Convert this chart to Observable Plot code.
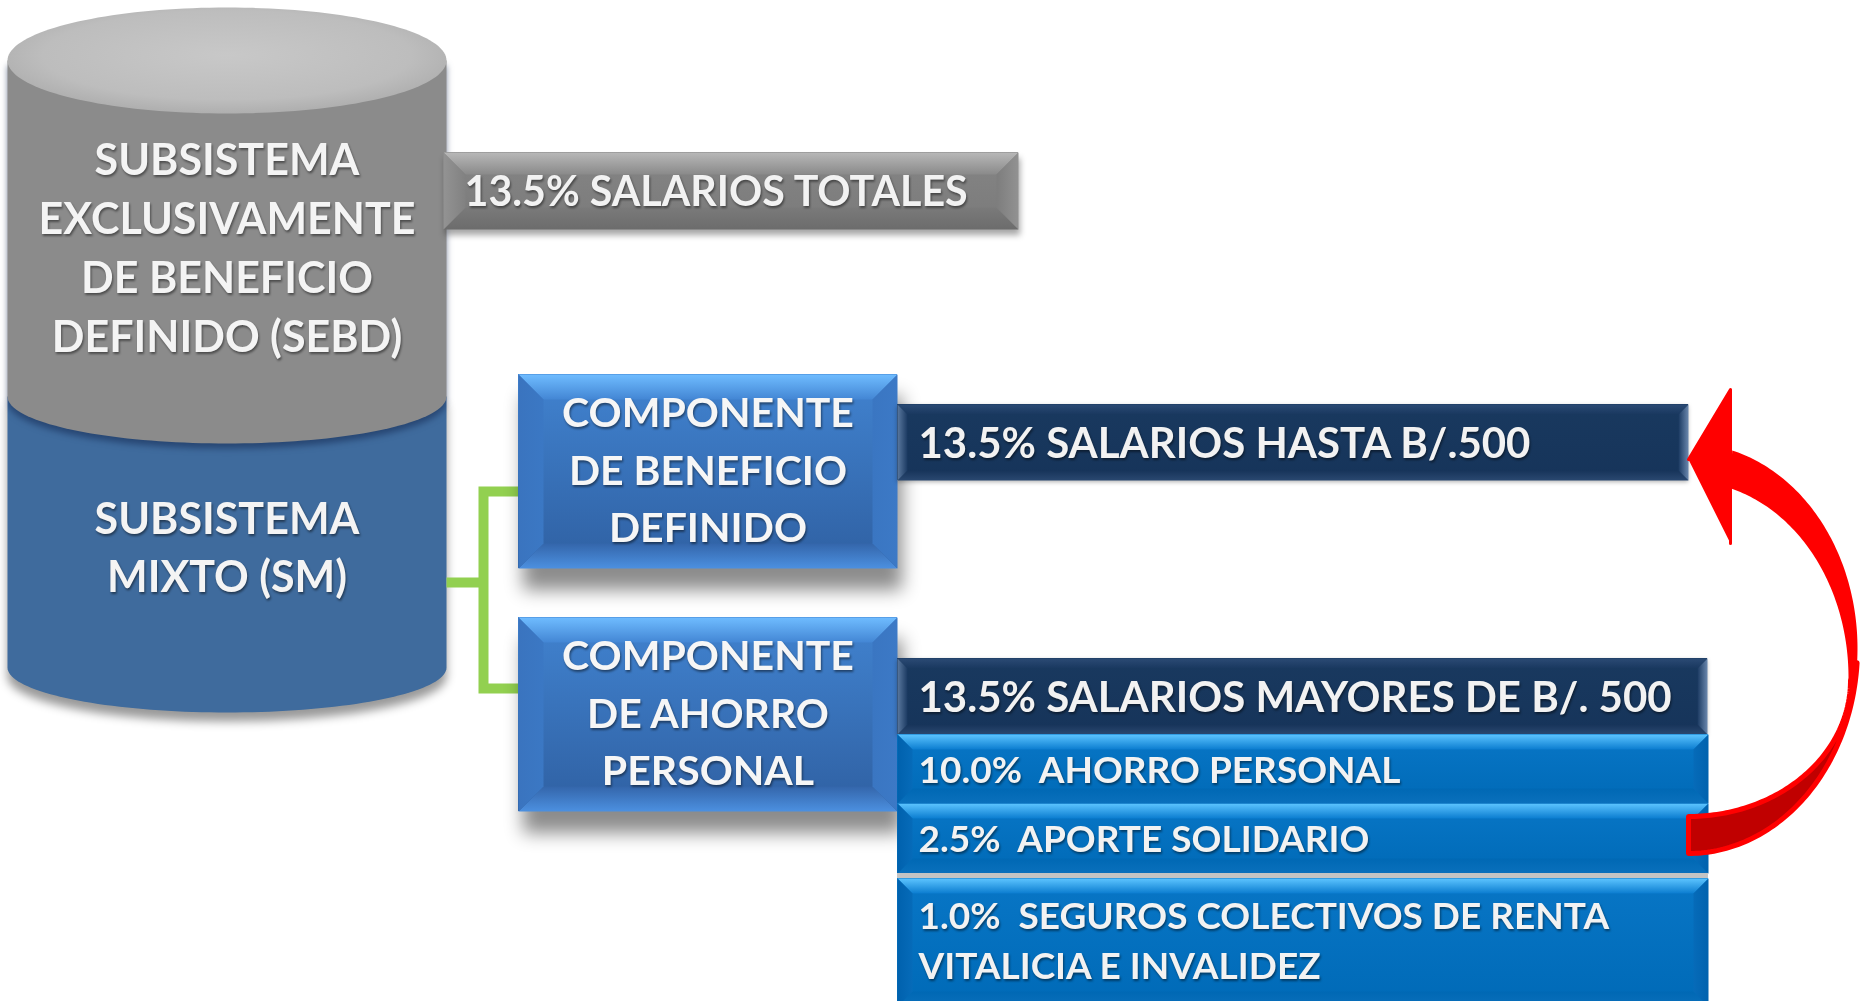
<!DOCTYPE html>
<html>
<head>
<meta charset="utf-8">
<script src="https://cdn.jsdelivr.net/npm/d3@7"></script>
<script src="https://cdn.jsdelivr.net/npm/@observablehq/plot@0.6"></script>
<style>
  html, body { margin: 0; padding: 0; background: #fff; overflow: hidden; }
  .shBig { filter: drop-shadow(5px 22px 9px rgba(0,0,0,0.45)); }
  .shSmall { filter: drop-shadow(2px 6px 3px rgba(0,0,0,0.35)); }
  .shCyl { filter: drop-shadow(0px 9px 5px rgba(0,0,0,0.40)); }
  .shMid { filter: drop-shadow(0px 5px 3px rgba(20,40,80,0.55)); }
  .shRow { filter: drop-shadow(0px 2px 2px rgba(0,0,0,0.30)); }
  .lbl { filter: drop-shadow(1px 2px 1px rgba(0,0,0,0.45)); }
</style>
</head>
<body>
<div id="chart"></div>
<script>
// ---------------- DATA (texts of the diagram) ----------------
const sebdLines = ["SUBSISTEMA", "EXCLUSIVAMENTE", "DE BENEFICIO", "DEFINIDO (SEBD)"];
const smLines = ["SUBSISTEMA", "MIXTO (SM)"];
const componentLines = [
  ["COMPONENTE", "DE BENEFICIO", "DEFINIDO"],
  ["COMPONENTE", "DE AHORRO", "PERSONAL"]
];
const rates = ["13.5%", "13.5%", "13.5%", "10.0%", "2.5%", "1.0%"];
const rateLines = [
  ["13.5% SALARIOS TOTALES"],
  ["13.5% SALARIOS HASTA B/.500"],
  ["13.5% SALARIOS MAYORES DE B/. 500"],
  ["10.0%  AHORRO PERSONAL"],
  ["2.5%  APORTE SOLIDARIO"],
  ["1.0%  SEGUROS COLECTIVOS DE RENTA", "VITALICIA E INVALIDEZ"]
];
const rateKinds = ["grey", "navy", "navy", "blue", "blue", "blue"];

// ---------------- LAYOUT ----------------
const W = 1860, H = 1001;
const cyl = {x1: 7, x2: 446, yTop: 60, yMid: 396, yBot: 667, ryTop: 53, ryMid: 47, ryBot: 45,
             sebdCenter: 249.5, sebdGap: 59, smCenter: 549, smGap: 58};
const compBoxes = [
  {x1: 518, x2: 897, y1: 374, y2: 568},
  {x1: 518, x2: 897, y1: 617, y2: 811}
];
const rateBoxes = [
  {x1: 443, x2: 1018, y1: 152, y2: 229, tx: 464},
  {x1: 897, x2: 1688, y1: 404, y2: 480, tx: 918},
  {x1: 897, x2: 1707, y1: 658, y2: 734, tx: 918},
  {x1: 897, x2: 1708, y1: 734, y2: 803, tx: 918},
  {x1: 897, x2: 1708, y1: 803, y2: 873, tx: 918},
  {x1: 897, x2: 1708, y1: 878, y2: 1006, tx: 918}
];
const separator = [{x1: 897, x2: 1708, y1: 873, y2: 878}];
const bracket = {xCyl: 446, xV: 483, xBox: 518, yMid: 582, yTop: 491, yBot: 688};
const arrowGeo = {
  outer: {cx: 1688, cy: 648, rx: 169, ry: 205},
  inner: {cx: 1688, cy: 677, rx: 160, ry: 196},
  back:  {cx: 1688, cy: 680, rx: 162, ry: 136},
  tip: [1688, 459], headTop: [1730, 389], headBot: [1730, 543]
};
const FONT = "Lato, 'Open Sans', sans-serif";
const cylSize = 43, compSize = 41, bigGap = 57.5, rateGap = 50, rateShift = 2;
const rateSizes = {grey: 41.2, navy: 42, blue: 37};

// ---------------- helpers ----------------
const deg = Math.PI / 180;
function arc(c, a0, a1, n = 80) {
  return d3.range(n + 1).map(i => {
    const a = (a0 + (a1 - a0) * i / n) * deg;
    return {x: c.cx + c.rx * Math.cos(a), y: c.cy + c.ry * Math.sin(a)};
  });
}
function bevel(boxes, d) {
  const sides = {top: [], bottom: [], left: [], right: []};
  boxes.forEach((b, i) => {
    const push = (side, pts) => pts.forEach(([x, y]) => sides[side].push({id: i, x, y}));
    push("top", [[b.x1, b.y1], [b.x2, b.y1], [b.x2 - d, b.y1 + d], [b.x1 + d, b.y1 + d]]);
    push("bottom", [[b.x1, b.y2], [b.x2, b.y2], [b.x2 - d, b.y2 - d], [b.x1 + d, b.y2 - d]]);
    push("left", [[b.x1, b.y1], [b.x1 + d, b.y1 + d], [b.x1 + d, b.y2 - d], [b.x1, b.y2]]);
    push("right", [[b.x2, b.y1], [b.x2 - d, b.y1 + d], [b.x2 - d, b.y2 - d], [b.x2, b.y2]]);
  });
  return sides;
}
const poly = (data, fill, extra = {}) =>
  Plot.line(data, {x: "x", y: "y", z: "id", fill, stroke: "none", curve: "linear", ...extra});
function bevelMarks(boxes, d, fills) {
  const s = bevel(boxes, d);
  return ["top", "bottom", "left", "right"].map(k => poly(s[k], fills[k]));
}

// ---------------- gradients (defs) ----------------
function defsMark() {
  const defs = d3.create("svg:defs");
  const lin = (id, stops, horizontal = false) => {
    const g = defs.append("linearGradient").attr("id", id)
      .attr("x1", 0).attr("y1", 0).attr("x2", horizontal ? 1 : 0).attr("y2", horizontal ? 0 : 1);
    stops.forEach(([o, c]) => g.append("stop").attr("offset", o).attr("stop-color", c));
  };
  const rg = defs.append("radialGradient").attr("id", "cylTop").attr("cx", 0.5).attr("cy", 0.45).attr("r", 0.6);
  [[0, "#c8c8c8"], [0.7, "#bdbdbd"], [1, "#a9a9a9"]].forEach(([o, c]) => rg.append("stop").attr("offset", o).attr("stop-color", c));
  lin("gyMain", [[0, "#858585"], [1, "#7a7a7a"]]);
  lin("gyTop", [[0, "#b8b8b8"], [1, "#8a8a8a"]]);
  lin("gyBot", [[0, "#7a7a7a"], [1, "#6c6c6c"]]);
  lin("gyLeft", [[0, "#939393"], [1, "#818181"]], true);
  lin("gyRight", [[0, "#7d7d7d"], [1, "#929292"]], true);
  lin("cpMain", [[0, "#4183d0"], [1, "#2f60a2"]]);
  lin("cpTop", [[0, "#6fbcff"], [1, "#4386d4"]]);
  lin("cpBot", [[0, "#3466ab"], [1, "#4c90e0"]]);
  lin("cpLeft", [[0, "#3a74bf"], [1, "#3b78c4"]], true);
  lin("cpRight", [[0, "#3a76c2"], [1, "#3c79c6"]], true);
  lin("nvMain", [[0, "#19395f"], [1, "#16345a"]]);
  lin("nvTop", [[0, "#2b4a74"], [1, "#19385f"]]);
  lin("nvBot", [[0, "#17345a"], [1, "#2a4870"]]);
  lin("nvLeft", [[0, "#5a789e"], [1, "#1b3a62"]], true);
  lin("nvRight", [[0, "#1b3a62"], [1, "#6a87ad"]], true);
  lin("bwMain", [[0, "#0876c6"], [1, "#006ab7"]]);
  lin("bwTop", [[0, "#5cc4ff"], [1, "#0b7dd0"]]);
  lin("bwBot", [[0, "#0068b4"], [1, "#0a70bc"]]);
  lin("bwLeft", [[0, "#0061ad"], [1, "#066bb9"]], true);
  lin("bwRight", [[0, "#066bb9"], [1, "#0062ae"]], true);
  return defs.node();
}

// ---------------- shapes ----------------
const cx = (cyl.x1 + cyl.x2) / 2, rx = (cyl.x2 - cyl.x1) / 2;
const blueBody = [{id: 0, x: cyl.x1, y: cyl.yMid},
  ...arc({cx, cy: cyl.yBot, rx, ry: cyl.ryBot}, 180, 0).map(p => ({id: 0, ...p})),
  {id: 0, x: cyl.x2, y: cyl.yMid}];
const greyBody = [{id: 0, x: cyl.x1, y: cyl.yTop},
  ...arc({cx, cy: cyl.yMid, rx, ry: cyl.ryMid}, 180, 0).map(p => ({id: 0, ...p})),
  {id: 0, x: cyl.x2, y: cyl.yTop}];
const topEllipse = arc({cx, cy: cyl.yTop, rx, ry: cyl.ryTop}, 0, 360, 160).map(p => ({id: 0, ...p}));

const bracketLines = [
  {id: 0, x: bracket.xCyl, y: bracket.yMid}, {id: 0, x: bracket.xV, y: bracket.yMid},
  {id: 1, x: bracket.xBox, y: bracket.yTop}, {id: 1, x: bracket.xV, y: bracket.yTop},
  {id: 1, x: bracket.xV, y: bracket.yBot}, {id: 1, x: bracket.xBox, y: bracket.yBot}
];

const A = arrowGeo;
const arrowFront = [...arc(A.outer, -75, 10), ...arc(A.inner, 3, -75)].map(p => ({id: 0, ...p}));
const arrowBack = [...arc(A.outer, 4, 90), ...arc(A.back, 90, 0)].map(p => ({id: 0, ...p}));
const arrowHead = [A.tip, A.headTop, A.headBot].map(([x, y]) => ({id: 0, x, y}));

// ---------------- texts ----------------
const fixSpaces = s => s.replace(/  /g, "\u00a0 ");
const centered = (lines, xc, yc, gap) => lines.map((t, i) => ({t, x: xc, y: yc + (i - (lines.length - 1) / 2) * gap}));
const cylText = [
  ...centered(sebdLines, cx, cyl.sebdCenter, cyl.sebdGap),
  ...centered(smLines, cx, cyl.smCenter, cyl.smGap)
];
const compText = componentLines.flatMap((lines, i) => {
  const b = compBoxes[i];
  return centered(lines, (b.x1 + b.x2) / 2, (b.y1 + b.y2) / 2, bigGap);
});
const rateText = rateLines.flatMap((lines, i) => {
  const b = rateBoxes[i];
  const yc = (b.y1 + Math.min(b.y2, H)) / 2 + rateShift;
  return centered(lines.map(fixSpaces), b.tx, yc, rateGap)
    .map(d => ({...d, rate: rates[i], size: rateSizes[rateKinds[i]]}));
});

const byKind = k => rateBoxes.filter((b, i) => rateKinds[i] === k);
const textOpts = {x: "x", y: "y", text: "t", fontWeight: "bold", fontFamily: FONT, lineAnchor: "middle", className: "lbl"};

// ---------------- plot ----------------
const chart = Plot.plot({
  width: W, height: H, margin: 0,
  x: {domain: [0, W], range: [0, W], axis: null},
  y: {domain: [0, H], range: [0, H], axis: null},
  style: {fontFamily: FONT, background: "#fff"},
  marks: [
    defsMark,
    // cylinder
    poly(blueBody, "#3f6b9d", {className: "shCyl"}),
    poly(greyBody, "#8b8b8b", {className: "shMid"}),
    poly(topEllipse, "url(#cylTop)"),
    // bracket
    Plot.line(bracketLines, {x: "x", y: "y", z: "id", stroke: "#92d050", strokeWidth: 10,
      strokeLinejoin: "miter", strokeLinecap: "butt", strokeMiterlimit: 4}),
    // grey box
    Plot.rect(byKind("grey"), {x1: "x1", x2: "x2", y1: "y1", y2: "y2", fill: "url(#gyMain)", className: "shSmall"}),
    ...bevelMarks(byKind("grey"), 22, {top: "url(#gyTop)", bottom: "url(#gyBot)", left: "url(#gyLeft)", right: "url(#gyRight)"}),
    // component boxes
    Plot.rect(compBoxes, {x1: "x1", x2: "x2", y1: "y1", y2: "y2", fill: "url(#cpMain)", className: "shBig"}),
    ...bevelMarks(compBoxes, 25, {top: "url(#cpTop)", bottom: "url(#cpBot)", left: "url(#cpLeft)", right: "url(#cpRight)"}),
    // navy boxes
    Plot.rect(byKind("navy"), {x1: "x1", x2: "x2", y1: "y1", y2: "y2", fill: "url(#nvMain)", className: "shRow"}),
    ...bevelMarks(byKind("navy"), 10, {top: "url(#nvTop)", bottom: "url(#nvBot)", left: "url(#nvLeft)", right: "url(#nvRight)"}),
    // blue rows
    Plot.rect(byKind("blue"), {x1: "x1", x2: "x2", y1: "y1", y2: "y2", fill: "url(#bwMain)"}),
    ...bevelMarks(byKind("blue"), 15, {top: "url(#bwTop)", bottom: "url(#bwBot)", left: "url(#bwLeft)", right: "url(#bwRight)"}),
    Plot.rect(separator, {x1: "x1", x2: "x2", y1: "y1", y2: "y2", fill: "#c4c4c4"}),
    // texts
    Plot.text(cylText, {...textOpts, fontSize: cylSize, fill: "#f4f4f4", textAnchor: "middle"}),
    Plot.text(compText, {...textOpts, fontSize: compSize, fill: "#f6f6f6", textAnchor: "middle"}),
    Plot.text(rateText, {...textOpts, fontSize: "size", fill: "#f2f2f2", textAnchor: "start"}),
    // red curved arrow
    poly(arrowBack, "#c00000", {stroke: "#ff0000", strokeWidth: 5, strokeLinejoin: "round"}),
    poly(arrowFront, "#ff0000"),
    poly(arrowHead, "#ff0000", {stroke: "#ff0000", strokeWidth: 3, strokeLinejoin: "round"})
  ]
});
document.getElementById("chart").appendChild(chart);
</script>
</body>
</html>
